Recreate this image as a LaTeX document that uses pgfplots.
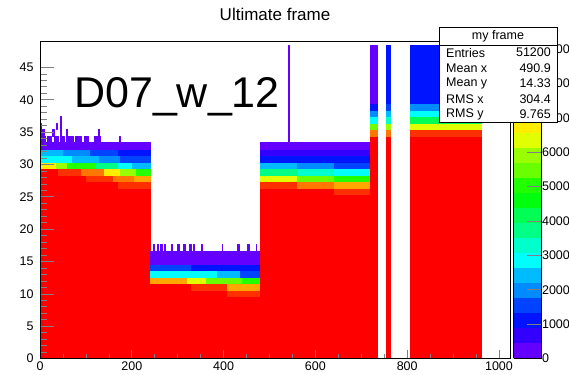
\documentclass[border=0pt]{standalone}
\usepackage{pgfplots}
\pgfplotsset{compat=1.18}
\usepackage{pgfplotstable}
\usepgfplotslibrary{patchplots}
\usepackage{fontspec}
\setmainfont{Liberation Sans}

% rectangles of the 2D histogram: x0 x1 y0 y1 content
\pgfplotstableread{
x0 x1 y0 y1 c
0 240 0 26.4 9200
0 170 26.4 27.4 9000
170 240 26.4 27.4 8070
0 50 27.4 28.4 9000
50 100 27.4 28.4 8530
100 160 27.4 28.4 8070
160 205 27.4 28.4 7610
205 240 27.4 28.4 7150
0 40 28.4 29.4 8530
40 90 28.4 29.4 8070
90 140 28.4 29.4 7610
140 175 28.4 29.4 6680
175 210 28.4 29.4 5760
210 240 28.4 29.4 4840
0 35 29.4 30.4 6680
35 60 29.4 30.4 5760
60 120 29.4 30.4 4840
120 170 29.4 30.4 3920
170 200 29.4 30.4 3000
200 240 29.4 30.4 2540
0 70 30.4 31.4 3000
70 130 30.4 31.4 2540
130 175 30.4 31.4 2070
175 240 30.4 31.4 1610
0 50 31.4 32.4 2540
50 110 31.4 32.4 2070
110 170 31.4 32.4 1610
170 240 31.4 32.4 1150
0 240 32.4 33.4 230
0 12 33.4 34.4 230
16 24 33.4 34.4 230
30 40 33.4 34.4 230
44 52 33.4 34.4 230
58 72 33.4 34.4 230
76 90 33.4 34.4 230
96 104 33.4 34.4 230
118 132 33.4 34.4 230
172 175 33.4 34.4 230
0 4 34.4 35.4 230
8 10 34.4 35.4 230
27 30 34.4 35.4 230
44 47 34.4 35.4 230
57 60 34.4 35.4 230
126 130 34.4 35.4 230
0 3 35.4 36.4 230
35 37 35.4 36.4 230
44 47 35.4 36.4 230
44 47 36.4 37.4 230
240 480 0 9.6 9200
240 407 9.6 10.6 9000
407 480 9.6 10.6 8070
240 330 10.6 11.6 8530
330 407 10.6 11.6 8070
407 480 10.6 11.6 7150
240 320 11.6 12.6 7150
320 363 11.6 12.6 6220
363 440 11.6 12.6 5300
440 480 11.6 12.6 4840
240 385 12.6 13.6 3000
385 436 12.6 13.6 2540
436 480 12.6 13.6 1610
240 330 13.6 14.6 1610
330 480 13.6 14.6 1150
240 480 14.6 16.6 230
246 249 16.6 17.6 230
255 258 16.6 17.6 230
262 266 16.6 17.6 230
270 273 16.6 17.6 230
285 287 16.6 17.6 230
300 303 16.6 17.6 230
312 316 16.6 17.6 230
326 330 16.6 17.6 230
333 336 16.6 17.6 230
352 354 16.6 17.6 230
396 398 16.6 17.6 230
430 433 16.6 17.6 230
452 455 16.6 17.6 230
470 472 16.6 17.6 230
480 720 0 24.4 9200
480 640 24.4 25.4 9000
640 720 24.4 25.4 8530
480 560 25.4 26.4 9000
560 640 25.4 26.4 8530
640 720 25.4 26.4 8070
480 560 26.4 27.4 8070
560 640 26.4 27.4 7610
640 720 26.4 27.4 7150
480 560 27.4 28.4 6220
560 640 27.4 28.4 5300
640 720 27.4 28.4 4840
480 560 28.4 29.4 3920
560 640 28.4 29.4 3460
640 720 28.4 29.4 3000
480 560 29.4 30.4 2540
560 640 29.4 30.4 2070
640 720 29.4 30.4 1610
480 720 30.4 31.4 1150
480 720 31.4 32.4 690
480 720 32.4 33.4 230
540 542 33.4 48.4 230
720 734 0 34.4 9200
720 734 34.4 35.4 7610
720 734 35.4 36.4 5300
720 734 36.4 37.4 3000
720 734 37.4 38.4 2070
720 734 38.4 39.4 1150
720 734 39.4 48.4 230
755 762 0 34.4 9200
755 762 34.4 35.4 7610
755 762 35.4 36.4 5760
755 762 36.4 37.4 3460
755 762 37.4 38.4 2540
755 762 38.4 39.4 1610
755 762 39.4 48.4 1150
806 961 0 34.4 9200
830 850 33.4 34.4 8530
900 930 33.4 34.4 8530
806 961 34.4 35.4 8070
806 961 35.4 36.4 6220
806 961 36.4 37.4 4380
806 961 37.4 38.4 3000
806 961 38.4 39.4 2070
806 961 39.4 48.4 1150
}\rects

\pgfplotstablegetrowsof{\rects}
\pgfmathtruncatemacro{\nrects}{\pgfplotsretval-1}

\newcommand{\tickfont}{\fontsize{12.5}{14}\selectfont}

\begin{document}
\begin{tikzpicture}
\useasboundingbox (0,0) rectangle (569pt,374pt);
\begin{axis}[
  at={(40pt,15.5pt)}, anchor=south west,
  scale only axis, width=470pt, height=317pt,
  xmin=0, xmax=1024, ymin=0, ymax=49,
  axis on top,
  axis line style={line width=0.8pt},
  xtick={0,200,...,1000}, minor x tick num=3,
  ytick={0,5,...,45}, minor y tick num=4,
  xtick pos=bottom, ytick pos=left, tick align=inside,
  x tick style={/pgfplots/major tick length=8pt,/pgfplots/minor tick length=4pt, line width=0.6pt},
  y tick style={/pgfplots/major tick length=14pt,/pgfplots/minor tick length=7pt, line width=0.6pt},
  tick label style={font=\tickfont, /pgf/number format/assume math mode=true, /pgf/number format/1000 sep={}},
  scaled x ticks=false,
  yticklabel style={xshift=-3pt},
  point meta min=0, point meta max=9220,
  colormap={root}{rgb255=(99,0,255) rgb255=(51,0,255) rgb255=(0,20,255) rgb255=(0,68,255) rgb255=(0,139,255) rgb255=(0,187,255) rgb255=(0,255,252) rgb255=(0,255,204) rgb255=(0,255,133) rgb255=(0,255,85) rgb255=(0,255,14) rgb255=(34,255,0) rgb255=(105,255,0) rgb255=(153,255,0) rgb255=(224,255,0) rgb255=(255,238,0) rgb255=(255,167,0) rgb255=(255,119,0) rgb255=(255,48,0) rgb255=(255,0,0) rgb255=(255,0,0)},
  colormap access=piecewise constant,
  colorbar,
  colorbar style={
    at={(parent axis.north east)}, anchor=north west, xshift=-5pt,
    scale only axis, width=28pt,
    axis line style={line width=0.8pt},
    ytick={0,1000,...,9000},
    scaled y ticks=false,
    ytick pos=right, yticklabel pos=right, tick align=inside,
    major tick length=15pt,
    ytick style={line width=0.6pt},
    yticklabel style={font=\tickfont, /pgf/number format/1000 sep={}, /pgf/number format/assume math mode=true, xshift=-3pt},
  },
]
\pgfplotsforeachungrouped \i in {0,...,\nrects}{%
  \pgfplotstablegetelem{\i}{x0}\of\rects \let\xa\pgfplotsretval
  \pgfplotstablegetelem{\i}{x1}\of\rects \let\xb\pgfplotsretval
  \pgfplotstablegetelem{\i}{y0}\of\rects \let\ya\pgfplotsretval
  \pgfplotstablegetelem{\i}{y1}\of\rects \let\yb\pgfplotsretval
  \pgfplotstablegetelem{\i}{c}\of\rects \let\cc\pgfplotsretval
  \edef\tmp{\noexpand\addplot[patch, patch type=rectangle, shader=flat corner, point meta=explicit, forget plot] coordinates {(\xa,\ya) [\cc] (\xb,\ya) [\cc] (\xb,\yb) [\cc] (\xa,\yb) [\cc]};}%
  \tmp
}
\end{axis}
\node[font=\fontsize{17}{17}\selectfont] at (275pt,360pt) {Ultimate frame};
\node[anchor=base west, font=\fontsize{43}{43}\selectfont, inner sep=0pt] at (74pt,266pt) {D07\_w\_12};
% statistics box
\draw[line width=0.8pt, fill=white] (439pt,252pt) rectangle (557pt,347pt);
\draw[line width=0.8pt] (439pt,329pt) -- (557pt,329pt);
\node[font=\tickfont] at (498pt,338pt) {my frame};
\begin{scope}[every node/.style={font=\tickfont, inner sep=0pt}]
\node[anchor=west] at (446pt,321.3pt) {Entries};
\node[anchor=east] at (551pt,321.3pt) {51200};
\node[anchor=west] at (446pt,305.9pt) {Mean x};
\node[anchor=east] at (551pt,305.9pt) {490.9};
\node[anchor=west] at (446pt,290.5pt) {Mean y};
\node[anchor=east] at (551pt,290.5pt) {14.33};
\node[anchor=west] at (446pt,275.1pt) {RMS x};
\node[anchor=east] at (551pt,275.1pt) {304.4};
\node[anchor=west] at (446pt,259.7pt) {RMS y};
\node[anchor=east] at (551pt,259.7pt) {9.765};
\end{scope}
\end{tikzpicture}
\end{document}
